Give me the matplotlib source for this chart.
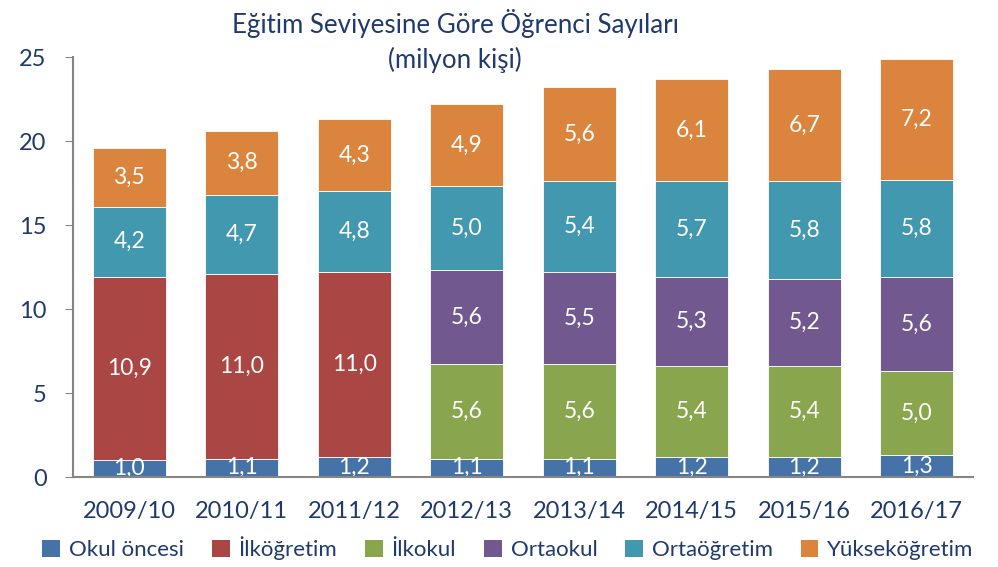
import matplotlib
matplotlib.use("Agg")
import matplotlib.pyplot as plt
import numpy as np
from matplotlib.patches import Patch

categories = ["2009/10", "2010/11", "2011/12", "2012/13", "2013/14", "2014/15", "2015/16", "2016/17"]
okul_oncesi = [1.0, 1.1, 1.2, 1.1, 1.1, 1.2, 1.2, 1.3]
ilkogretim = [10.9, 11.0, 11.0, 0, 0, 0, 0, 0]
ilkokul = [0, 0, 0, 5.6, 5.6, 5.4, 5.4, 5.0]
ortaokul = [0, 0, 0, 5.6, 5.5, 5.3, 5.2, 5.6]
ortaogretim = [4.2, 4.7, 4.8, 5.0, 5.4, 5.7, 5.8, 5.8]
yuksekogretim = [3.5, 3.8, 4.3, 4.9, 5.6, 6.1, 6.7, 7.2]

series_names = ["Okul öncesi", "İlköğretim", "İlkokul", "Ortaokul", "Ortaöğretim", "Yükseköğretim"]
series = [okul_oncesi, ilkogretim, ilkokul, ortaokul, ortaogretim, yuksekogretim]
colors = ["#4572A7", "#AA4643", "#89A54E", "#71588F", "#4198AF", "#DB843D"]
yticks = [0, 5, 10, 15, 20, 25]

TXT = "#1F3A6E"
FONT = ["Lato", "DejaVu Sans"]
plt.rcParams["font.family"] = FONT

fig = plt.figure(figsize=(9.98, 5.67), dpi=100)
ax = fig.add_axes([73/998, 90/567, 900/998, 420/567])

x = np.arange(len(categories))
bottom = np.zeros(len(categories))
for name, vals, col in zip(series_names, series, colors):
    vals = np.array(vals, dtype=float)
    ax.bar(x, vals, width=0.65, bottom=bottom, color=col, edgecolor="white", linewidth=0.6, zorder=2)
    for xi, v, b in zip(x, vals, bottom):
        if v > 0:
            ax.text(xi, b + v / 2, f"{v:.1f}".replace(".", ","), ha="center", va="center",
                    color="white", fontsize=16.5, clip_on=True, zorder=3)
    bottom += vals

ax.set_xlim(-0.5, len(categories) - 0.5)
ax.set_ylim(0, 25)
ax.set_yticks(yticks)
ax.set_xticks(x)
ax.set_xticklabels(categories)
ax.tick_params(axis="y", direction="out", length=6, color="#868686", labelcolor=TXT, labelsize=17, pad=13)
ax.tick_params(axis="x", length=0, labelcolor=TXT, labelsize=17, pad=17)
for s in ["top", "right"]:
    ax.spines[s].set_visible(False)
for s in ["left", "bottom"]:
    ax.spines[s].set_color("#868686")
    ax.spines[s].set_linewidth(1.5)
    ax.spines[s].set_zorder(4)

fig.text(455/998, 1 - 24/567, "Eğitim Seviyesine Göre Öğrenci Sayıları", ha="center", va="center",
         color=TXT, fontsize=18.6)
fig.text(455/998, 1 - 60/567, "(milyon kişi)", ha="center", va="center", color=TXT, fontsize=18.6)

handles = [Patch(facecolor=c, edgecolor="none") for c in colors]
fig.legend(handles, series_names, loc="center", bbox_to_anchor=(508/998, 1 - 548/567), ncol=6,
           frameon=False, fontsize=16, labelcolor=TXT, handlelength=0.8, handleheight=0.8,
           handletextpad=0.4, columnspacing=1.25)

fig.savefig("out.png", dpi=100)
